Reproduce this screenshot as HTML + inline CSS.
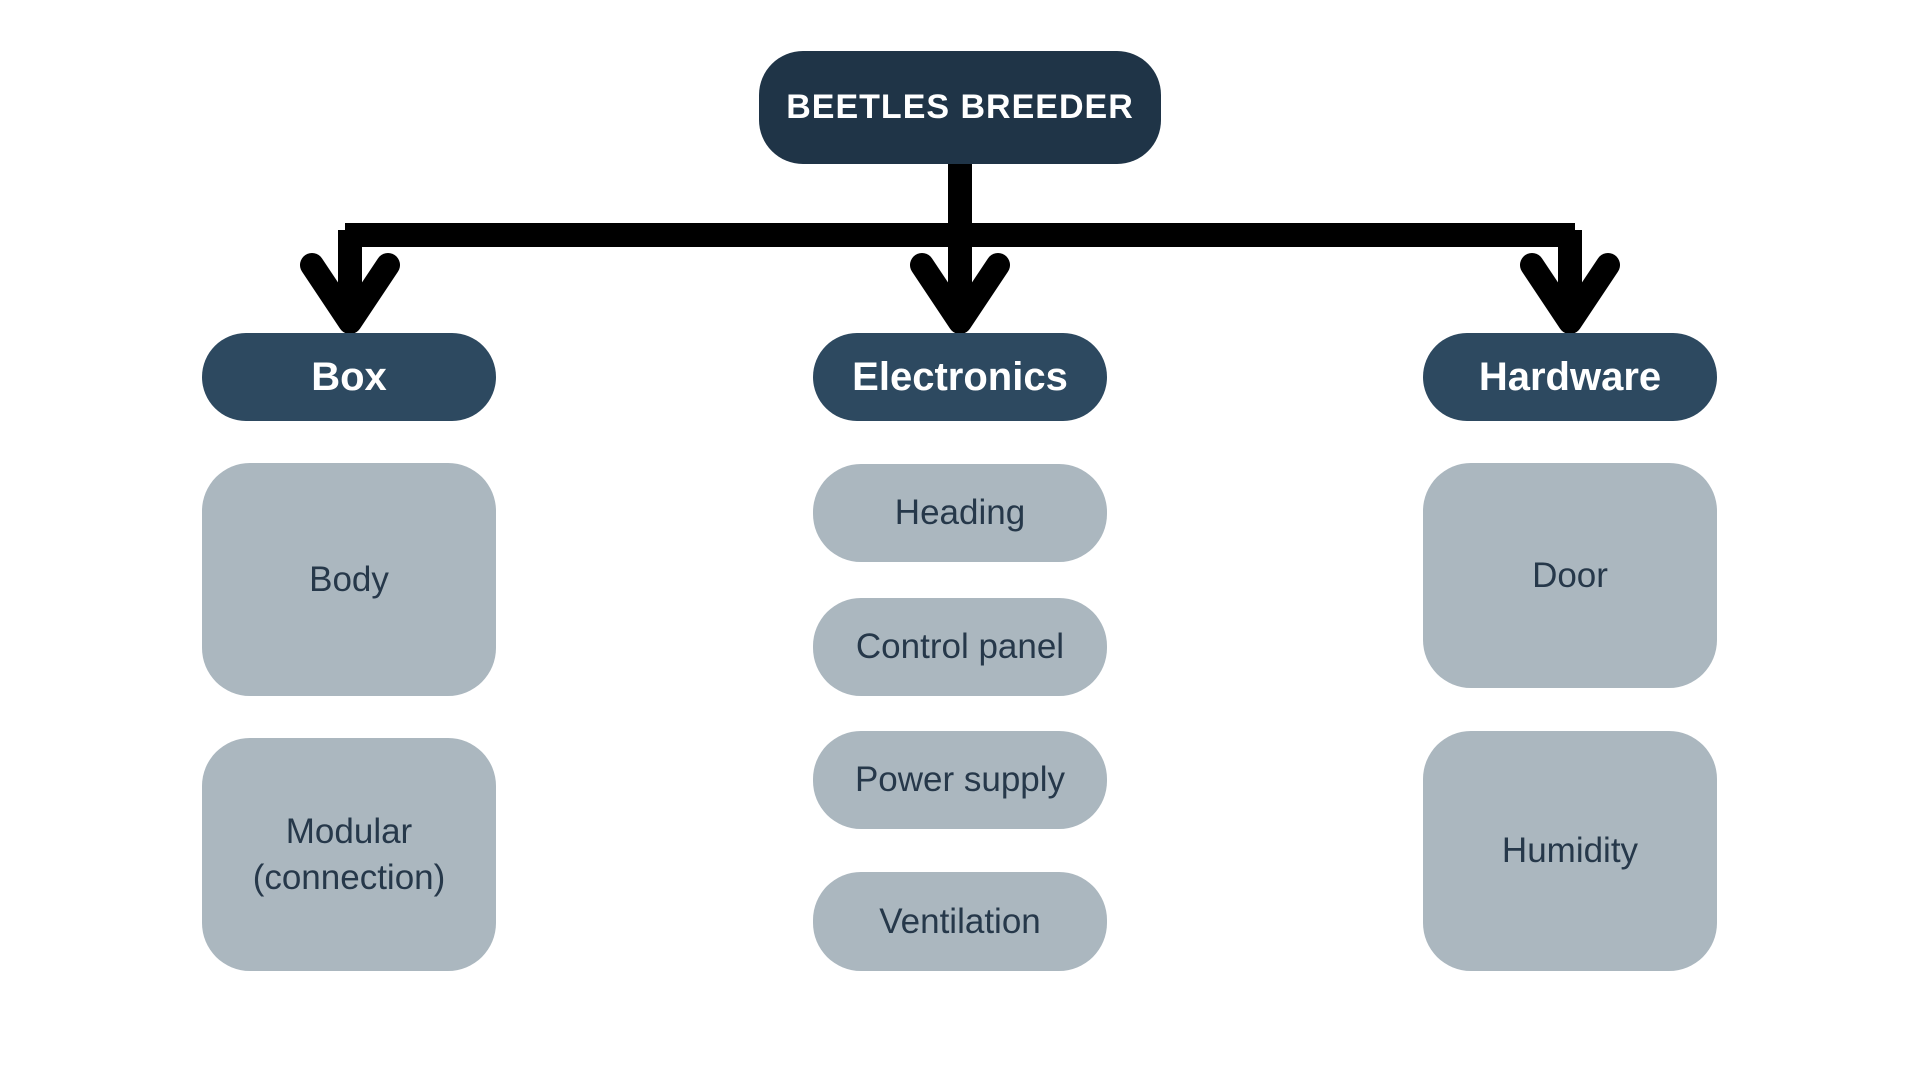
<!DOCTYPE html>
<html><head><style>
body{margin:0;width:1920px;height:1080px;background:#fff;position:relative;overflow:hidden;font-family:"Liberation Sans",sans-serif}
.n{position:absolute;display:flex;align-items:center;justify-content:center;text-align:center}
.root{left:759px;top:51px;width:402px;height:113px;border-radius:44px;background:#1f3447;color:#fff;font-weight:bold;font-size:34px;letter-spacing:1px}
.cat{width:294px;height:88px;top:333px;border-radius:44px;background:#2d4960;color:#fff;font-weight:bold;font-size:40px}
.it{width:294px;border-radius:48px;background:#abb7bf;color:#26384a;font-size:35px;line-height:46px}
</style></head><body>
<svg width="1920" height="1080" style="position:absolute;left:0;top:0">
<g stroke="#000" stroke-width="24" fill="none" stroke-linecap="round" stroke-linejoin="round">
<line x1="960" y1="164" x2="960" y2="235" stroke-linecap="butt"/>
<line x1="345" y1="235" x2="1575" y2="235" stroke-linecap="butt"/>
<line x1="350" y1="230" x2="350" y2="320" stroke-linecap="butt"/>
<line x1="960" y1="230" x2="960" y2="320" stroke-linecap="butt"/>
<line x1="1570" y1="230" x2="1570" y2="320" stroke-linecap="butt"/>
<polyline points="312,265 350,322 388,265"/>
<polyline points="922,265 960,322 998,265"/>
<polyline points="1532,265 1570,322 1608,265"/>
</g></svg>
<div class="n root">BEETLES BREEDER</div>
<div class="n cat" style="left:202px">Box</div>
<div class="n cat" style="left:813px">Electronics</div>
<div class="n cat" style="left:1423px">Hardware</div>
<div class="n it" style="left:202px;top:463px;height:233px">Body</div>
<div class="n it" style="left:202px;top:738px;height:233px">Modular<br>(connection)</div>
<div class="n it" style="left:813px;top:464px;height:98px">Heading</div>
<div class="n it" style="left:813px;top:598px;height:98px">Control panel</div>
<div class="n it" style="left:813px;top:731px;height:98px">Power supply</div>
<div class="n it" style="left:813px;top:872px;height:99px">Ventilation</div>
<div class="n it" style="left:1423px;top:463px;height:225px">Door</div>
<div class="n it" style="left:1423px;top:731px;height:240px">Humidity</div>
</body></html>
